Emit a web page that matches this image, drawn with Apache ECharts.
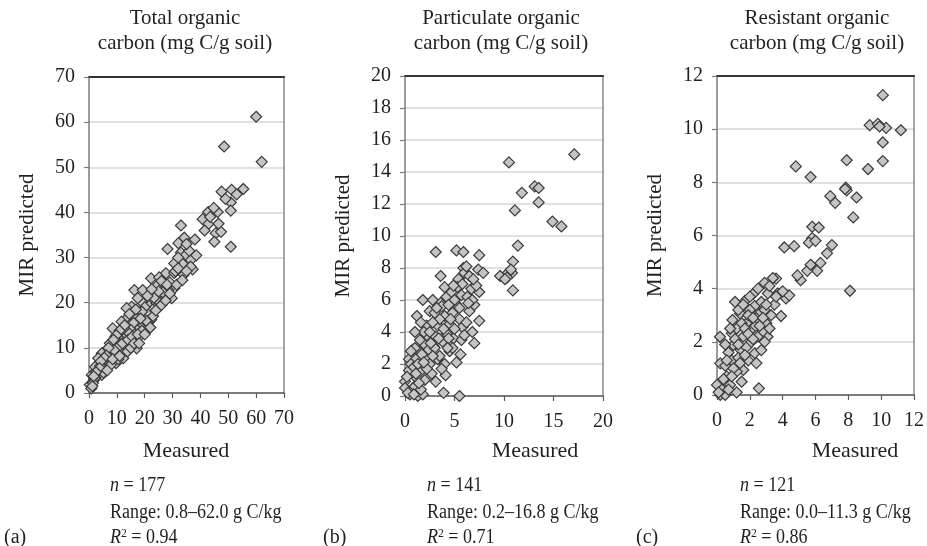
<!DOCTYPE html>
<html>
<head>
<meta charset="utf-8">
<script src="https://cdn.jsdelivr.net/npm/echarts@6/dist/echarts.min.js"></script>
<style>
  html, body { margin: 0; padding: 0; background: #ffffff; }
  #chart { width: 927px; height: 546px; }
</style>
</head>
<body>
<div id="chart"></div>
<script>
// Measured vs. MIR-predicted soil carbon fractions, [measured, predicted]
const totalOC = [
  [60,61.2],[48.5,54.6],[62,51.2],[55.4,45.2],[47.6,44.6],[51.2,45],[50.9,42.2],[50.9,40.4],[46.2,40.1],[42.8,40.1],
  [40.8,38.5],[42.8,37.4],[45.5,35.4],[47.4,35.7],[45,33.5],[50.9,32.4],[33,37.1],[34.2,34.4],[38,34],[32.1,33.2],
  [28.2,31.9],[33,31.1],[34.8,30.6],[36.6,29.5],[33.6,28.6],[30.6,28.7],[37.2,27.4],[27.6,26.5],[30.6,26.6],[22.3,25.4],
  [25.2,25.6],[24.6,23.9],[30.6,23.2],[28.5,22.8],[27.3,21.7],[29.7,21],[16.3,22.8],[19.3,22.8],[21.6,19.3],[24.2,19.9],
  [22.9,18.5],[20.7,17.7],[18.9,20.2],[15.3,19.1],[13.5,18.8],[18.1,17.5],[22.3,16.2],[13.5,16.5],[11.7,15.8],[14.7,15.1],
  [17.7,14.1],[8.5,14.3],[10.9,13.2],[13.3,12.5],[15.9,11.7],[18,12.5],[14.5,10.6],[17.1,9.9],[8.5,10.6],[6.3,9.5],
  [9.9,8.8],[12.3,9.5],[12.3,7.7],[9.7,6.6],[4.6,8.8],[3.3,7.7],[6.9,7.3],[2.2,5.8],[5.7,5.5],[4.6,4],
  [1,4],[1.8,2.9],[0.3,1.8],[0.8,1],[43.5,39],[44.8,41],[41.5,36],[46.5,37.5],[49,43],[53,44],
  [36,31.5],[35,33],[32,30],[31,27],[29,24.5],[26,24.8],[26.5,22.3],[23.5,21],[25.5,20],[21,21.5],
  [20,19],[19,18],[17,16.5],[16,15.5],[15,14],[14,13.5],[12.5,14.3],[11,12],[10,11.4],[9.5,12.5],
  [7.5,11],[8,9],[7,8.2],[6,6.5],[5,7],[4,6],[3.5,5],[2.7,3.8],[2,3.3],[1.4,2.2],
  [1.2,1.5],[3,4.6],[5.2,4.5],[7.8,6.2],[10.5,7.5],[11.5,9],[13,10.5],[16.5,13],[19.5,15],[21,15.5],
  [23,17],[19,13.8],[20.5,16],[24,18.3],[25,22.5],[28,24],[32,27.6],[34,26.2],[36.5,28],[38.5,30.5],
  [10.4,10.1],[9,9.5],[12,11],[14,11.8],[15.5,12.5],[17.5,13],[18.5,16.5],[16.8,18.5],[14.5,17.5],[12.8,15],
  [11,13.8],[9.8,12.8],[8.8,11.8],[7,10],[6.2,8.3],[5.5,7.8],[4.2,7],[3.8,5.5],[2.5,4.6],[1.7,3.7],
  [6.5,5],[8.5,7.5],[11,8.2],[13.8,9.2],[15,10],[16.2,11],[18,11],[20,13],[22,14.5],[26,19.5],
  [27.5,20.5],[29,22],[31.5,24],[33.5,25],[35,27],[22.5,23],[17.5,21]
];

const particulateOC = [
  [17.1,15.1],[10.5,14.6],[13.1,13.1],[13.5,13],[11.8,12.7],[13.5,12.1],[11.1,11.6],[14.9,10.9],[15.8,10.6],[11.4,9.4],
  [10.9,8.4],[10.8,7.7],[10.4,7.7],[9.6,7.5],[10.3,7.4],[10.9,6.6],[10.1,7.3],[10.7,7.9],[3.1,9],[5.2,9.1],
  [5.9,9],[7.5,8.8],[3.6,7.5],[5.9,8],[6,7.7],[5.4,7.3],[7.4,7.9],[7.9,7.7],[5.7,6.3],[6.7,6.7],
  [7.5,6.5],[6.3,6.2],[7,5.7],[7.5,4.7],[7,3.3],[1.8,6],[4.2,6.2],[5.1,5.8],[2.8,6],[3.6,5.8],
  [2.5,5.3],[1.2,5],[2.2,4.4],[3.3,4.4],[4.5,4.5],[5.5,4.8],[5.8,4.3],[2.2,3.8],[3.1,3.7],[4.2,3.9],
  [4.9,3.6],[5.7,3.5],[2,3.2],[2.9,3.1],[0.8,2.9],[1.5,2.8],[4.5,2.8],[0.4,2.3],[1.1,2.3],[2.2,2.4],
  [3.3,2.3],[5.2,2.1],[0.4,1.6],[1.5,1.5],[2.7,1.4],[4.1,1.3],[3.1,0.9],[0,0.9],[0,0.5],[0.5,0.1],
  [1.3,0],[1.8,0.1],[5.5,0],[0.8,0.5],[5.5,5.5],[4.8,5.2],[4,5],[3.5,4.8],[2.8,4.6],[1.9,4],
  [1.5,3.5],[1,3],[0.6,2],[0.2,1.2],[0.9,1.8],[1.3,2],[1.7,2.6],[2.4,2.9],[3,3],[3.8,3.4],
  [4.4,3.6],[5,4.2],[6.2,4.6],[6.5,5.3],[6.8,6],[4.7,6.5],[4,6.8],[3.7,5.6],[3,5.2],[2.5,4],
  [3.9,4.2],[4.6,4.8],[5.3,6.8],[6.5,7.5],[6.2,8.1],[5,6],[4.4,5.7],[1.2,1.1],[0.7,0.3],[1,0.6],
  [1.6,0.4],[2,1],[2.5,2],[3.5,2.5],[4,2],[3.7,1.7],[4.8,3],[6,3.8],[6.8,4],[1,4],
  [0.6,2.8],[1.4,0.8],[2.2,1.7],[2.8,2.5],[3.4,3.6],[0.3,0.2],[0.9,0.1],[1.1,1.4],[1.9,2.1],[2.6,3.3],
  [4.3,3],[5.6,2.6],[6.4,5.8],[5.8,7],[4.9,6.9],[3.2,5.5],[1.6,4.6],[7.2,6.9],[6.9,7.3],[3.9,0.2]
];

const resistantOC = [
  [10.1,11.28],[9.3,10.15],[9.8,10.2],[10.3,10.05],[11.2,9.96],[10.1,9.5],[10.1,8.8],[9.2,8.5],[7.9,8.83],[4.8,8.6],
  [5.7,8.2],[6.9,7.48],[7.2,7.23],[7.9,7.7],[7.85,7.8],[8.5,7.43],[8.3,6.68],[4.1,5.55],[4.7,5.6],[5.8,6.33],
  [5.8,5.9],[5.6,5.73],[7,5.64],[6.7,5.33],[6.3,4.97],[6.1,4.67],[5.5,4.67],[5.1,4.32],[8.1,3.92],[3.6,4.38],
  [2.9,4.22],[3.1,3.82],[3.7,3.82],[4.2,3.63],[3.9,2.97],[1.7,3.54],[2.3,3.35],[2,3.2],[1.4,3.07],[2.6,3.07],
  [2.4,2.88],[0.94,2.82],[1.8,2.7],[2.3,2.57],[3,2.7],[3.08,2.19],[0.18,2.19],[0.9,2.32],[1,1.88],[1.45,1.69],
  [2.3,1.57],[2.7,1.69],[1.6,0.94],[1.2,0.88],[0.2,1.19],[2.55,0.25],[0,0.38],[0.2,0],[0.5,0],[0.8,0.38],
  [1.2,0.1],[0.6,0.7],[2.9,3.2],[1.2,2.5],[1.6,2.2],[2,2.4],[2.5,2.2],[2.8,2.4],[3.3,3],[3.5,3.4],
  [2.7,3.5],[2.2,3.8],[1.9,3],[1.5,2.7],[1.1,2.1],[0.7,1.6],[0.5,1.1],[0.9,1.3],[1.3,1.4],[1.8,1.8],
  [2.1,2],[2.6,2.6],[3.2,2.5],[1,1],[0.4,0.6],[0.3,0.2],[0.7,0.2],[1.5,0.5],[1.9,1.3],[1.4,1.2],
  [2.2,2.9],[3,3.4],[3.4,4.4],[4.4,3.75],[2.5,4],[2,3.7],[1.7,2.5],[0.8,2.5],[1.3,3.2],[1.1,3.5],
  [0.5,1.9],[2.9,2],[4,3.9],[4.9,4.5],[5.7,4.9],[6,5.8],[6.2,6.3],[9.9,10.1],[7.8,7.75],[0.1,0.1],
  [0.9,0.7],[1.7,1.5],[2.4,1.2],[3.6,3.7],[1.6,3.4],[0.6,1.3],[2.8,2.9],[3.2,4.1],[1.3,1.9],[1.9,2.3],
  [2.2,2.1]
];

const panelTitles = [
  ['Total organic', 'carbon (mg C/g soil)'],
  ['Particulate organic', 'carbon (mg C/g soil)'],
  ['Resistant organic', 'carbon (mg C/g soil)']
];
const axisMax = [70, 20, 12];
const xStep = [10, 5, 2];
const yStep = [10, 2, 2];
const sampleCounts = ['177', '141', '121'];
const rangeLabels = ['Range: 0.8–62.0 g C/kg', 'Range: 0.2–16.8 g C/kg', 'Range: 0.0–11.3 g C/kg'];
const r2Values = ['0.94', '0.71', '0.86'];
const panelTags = ['(a)', '(b)', '(c)'];
const xName = 'Measured';
const yName = 'MIR predicted';

const FONT = 'Liberation Serif';
const INK = '#231f20';

// plot rectangles for the three panels
const grids = [
  { left: 89, top: 77, width: 195, height: 316 },
  { left: 405, top: 76, width: 198, height: 320 },
  { left: 717, top: 76, width: 200, height: 319 }
];
const titleCenters = [185, 501, 817];
const measuredCenters = [186, 535, 855];
const statsLeft = [110, 427, 740];
const tagLeft = [4, 323, 636];
const statsScale = 0.9; // slightly condensed caption lines

const datasets = [totalOC, particulateOC, resistantOC];

const xAxes = [], yAxes = [], series = [], graphics = [];
grids.forEach((g, i) => {
  // bottom axis with ticks and labels
  xAxes.push({
    type: 'value', gridIndex: i, min: 0, max: axisMax[i], interval: xStep[i],
    axisLine: { show: true, lineStyle: { color: '#5a5a5a', width: 1.5 } },
    axisTick: { show: true, inside: false, length: 5, lineStyle: { color: '#5a5a5a', width: 1.2 } },
    axisLabel: { color: INK, fontFamily: FONT, fontSize: 20, margin: 16 },
    splitLine: { show: false }
  });
  // top frame line
  xAxes.push({
    type: 'value', gridIndex: i, position: 'top', min: 0, max: axisMax[i],
    axisLine: { show: true, onZero: false, lineStyle: { color: '#333333', width: 2 } },
    axisTick: { show: false }, axisLabel: { show: false }, splitLine: { show: false }
  });
  // left axis with gridlines
  yAxes.push({
    type: 'value', gridIndex: i, min: 0, max: axisMax[i], interval: yStep[i],
    name: yName, nameLocation: 'middle', nameGap: 51, nameRotate: 90,
    nameTextStyle: { color: INK, fontFamily: FONT, fontSize: 21 },
    axisLine: { show: true, lineStyle: { color: '#7a7a7a', width: 1.5 } },
    axisTick: { show: true, inside: false, length: 5, lineStyle: { color: '#7a7a7a', width: 1.2 } },
    axisLabel: { color: INK, fontFamily: FONT, fontSize: 20, margin: 14 },
    splitLine: { show: true, lineStyle: { color: '#d6d6d6', width: 1.5 } }
  });
  // right frame line
  yAxes.push({
    type: 'value', gridIndex: i, position: 'right', min: 0, max: axisMax[i],
    axisLine: { show: true, onZero: false, lineStyle: { color: '#8a8a8a', width: 1.5 } },
    axisTick: { show: false }, axisLabel: { show: false }, splitLine: { show: false }
  });
  series.push({
    type: 'scatter', xAxisIndex: i * 2, yAxisIndex: i * 2,
    data: datasets[i], symbol: 'diamond', symbolSize: 11,
    itemStyle: { color: '#c4c4c4', borderColor: '#3a3a3a', borderWidth: 1.2, opacity: 1 },
    clip: false, z: 5
  });

  const txt = { fill: INK, fontFamily: FONT, fontSize: 21 };
  graphics.push(
    { type: 'text', x: titleCenters[i], y: 18, style: Object.assign({ text: panelTitles[i][0], textAlign: 'center', textVerticalAlign: 'middle' }, txt) },
    { type: 'text', x: titleCenters[i], y: 43, style: Object.assign({ text: panelTitles[i][1], textAlign: 'center', textVerticalAlign: 'middle' }, txt) },
    { type: 'text', x: measuredCenters[i], y: 451, style: Object.assign({ text: xName, textAlign: 'center', textVerticalAlign: 'middle' }, txt, { fontSize: 22 }) },
    { type: 'text', x: statsLeft[i], y: 486, scaleX: statsScale, style: {
        text: '{i|n} = ' + sampleCounts[i], textAlign: 'left', textVerticalAlign: 'middle',
        fontFamily: FONT, fontSize: 20, fill: INK,
        rich: { i: { fontStyle: 'italic', fontFamily: FONT, fontSize: 20, fill: INK } } } },
    { type: 'text', x: statsLeft[i], y: 513, scaleX: statsScale, style: Object.assign({ text: rangeLabels[i], textAlign: 'left', textVerticalAlign: 'middle' }, txt, { fontSize: 20 }) },
    { type: 'text', x: statsLeft[i], y: 538, scaleX: statsScale, style: {
        text: '{i|R}{s|2} = ' + r2Values[i], textAlign: 'left', textVerticalAlign: 'middle',
        fontFamily: FONT, fontSize: 20, fill: INK,
        rich: {
          i: { fontStyle: 'italic', fontFamily: FONT, fontSize: 20, fill: INK },
          s: { fontFamily: FONT, fontSize: 13, fill: INK, padding: [0, 0, 9, 0] }
        } } },
    { type: 'text', x: tagLeft[i], y: 538, style: Object.assign({ text: panelTags[i], textAlign: 'left', textVerticalAlign: 'middle' }, txt, { fontSize: 20 }) }
  );
});

const chart = echarts.init(document.getElementById('chart'), null, { renderer: 'canvas' });
chart.setOption({
  animation: false,
  backgroundColor: '#ffffff',
  grid: grids.map(g => Object.assign({ containLabel: false }, g)),
  xAxis: xAxes,
  yAxis: yAxes,
  series: series,
  graphic: graphics
});
</script>
</body>
</html>
